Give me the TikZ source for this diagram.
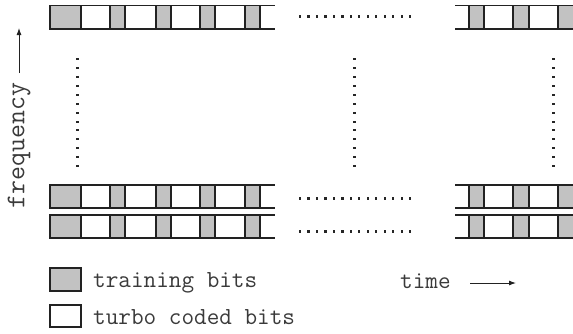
\documentclass[tikz,border=0pt]{standalone}
\usetikzlibrary{arrows.meta}
\definecolor{fillg}{HTML}{C2C2C2}
\definecolor{linec}{HTML}{222222}
\definecolor{txtc}{HTML}{3A3A3A}
\tikzset{
  cellg/.style={draw=linec, line width=1.2pt, fill=fillg},
  cellw/.style={draw=linec, line width=1.2pt, fill=white},
  rail/.style={draw=linec, line width=1.5pt},
  dotsq/.style={fill=black!85},
  lbl/.style={font=\fontsize{24.5}{28}\selectfont\ttfamily, text=txtc, inner sep=0pt},
  axlbl/.style={font=\fontsize{27}{30}\selectfont\ttfamily, text=txtc, inner sep=0pt},
  axarrow/.style={draw=linec, line width=0.9pt, -{Latex[length=7pt,width=5pt]}}
}
\begin{document}
\begin{tikzpicture}[x=1pt,y=-1pt]
\useasboundingbox (0,0) rectangle (573,333);
% rows of bits
\foreach \ya/\yb/\yd in {5.5/29/16, 185/208/198, 215/238/231}{
  % left block
  \draw[rail] (50,\ya) -- (275,\ya) (50,\yb) -- (275,\yb);
  \foreach \l/\r in {81/110,125/156,171/200,215/245}
    \draw[cellw] (\l,\ya) rectangle (\r,\yb);
  \foreach \l/\r in {50/81,110/125,156/171,200/215,245/260}
    \draw[cellg] (\l,\ya) rectangle (\r,\yb);
  % right block
  \draw[rail] (455,\ya) -- (573,\ya) (455,\yb) -- (573,\yb);
  \foreach \l/\r in {484/513,529/558}
    \draw[cellw] (\l,\ya) rectangle (\r,\yb);
  \foreach \l/\r in {469/484,513/529,558/574}
    \draw[cellg] (\l,\ya) rectangle (\r,\yb);
  % horizontal dots
  \foreach \i in {0,...,13}
    \fill[dotsq] ({299+\i*8.46},{\yd-1.5}) rectangle ++(2.2,3);
}
% vertical dots
\foreach \xv in {77,354,553}{
  \foreach \j in {0,...,12}
    \fill[dotsq] ({\xv-1.5},{58.2+\j*8.9}) rectangle ++(3,2);
}
% frequency axis
\node[axlbl, rotate=90] (freq) at (19,145.5) {frequency};
\coordinate (fa) at (19,73);
\coordinate (fb) at (19,28);
\draw[axarrow] (fa) -- (fb);
% time axis
\node[lbl, anchor=base west] (time) at (400,288) {time};
\coordinate (ta) at (470,283);
\coordinate (tb) at (516,283);
\draw[axarrow] (ta) -- (tb);
% legend
\draw[cellg] (50,268) rectangle (81,291);
\draw[cellw] (50,305) rectangle (81,327);
\node[lbl, anchor=base west] (ltrain) at (93,287.5) {training bits};
\node[lbl, anchor=base west] (lturbo) at (93,324) {turbo coded bits};
\end{tikzpicture}
\end{document}
